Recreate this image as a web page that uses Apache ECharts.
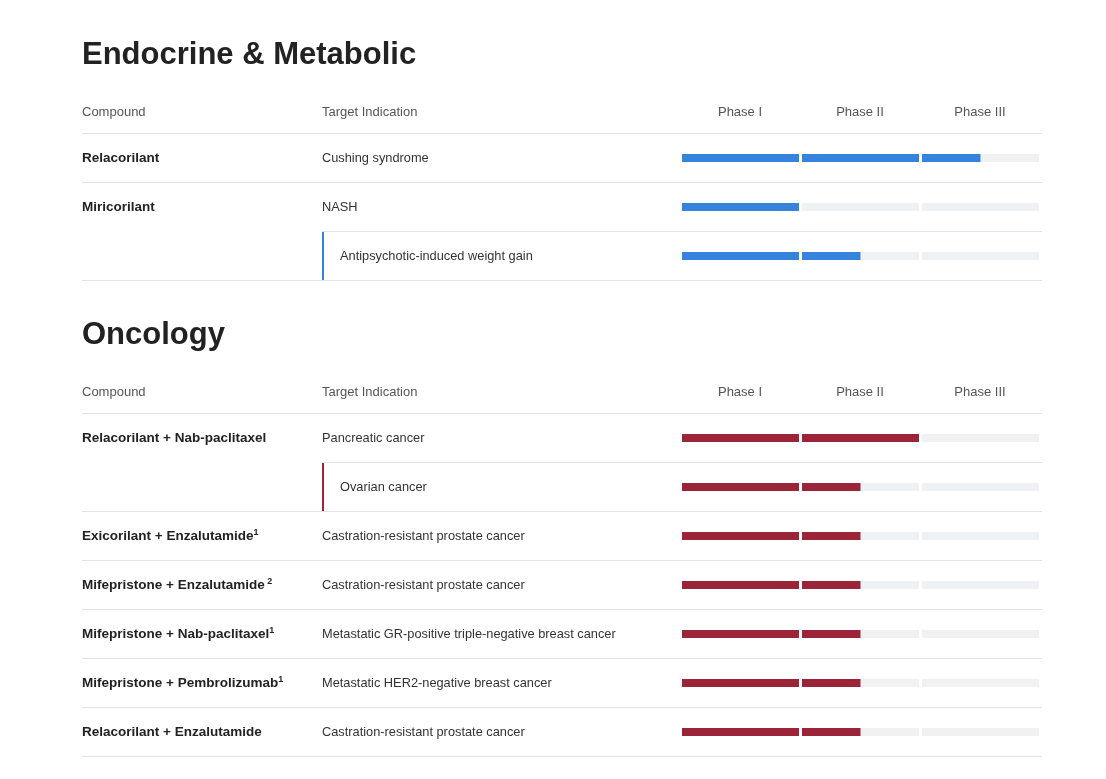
<!DOCTYPE html>
<html>
<head>
<meta charset="utf-8">
<title>Pipeline</title>
<script src="https://cdn.jsdelivr.net/npm/echarts@6/dist/echarts.min.js"></script>
<style>
  html, body { margin: 0; padding: 0; background: #fff; }
  #chart { width: 1106px; height: 779px; }
</style>
</head>
<body>
<div id="chart"></div>
<script>
// section titles and column headers
var sectionTitles = ['Endocrine & Metabolic', 'Oncology'];
var columnHeaders = ['Compound', 'Target Indication'];
var phaseLabels = ['Phase I', 'Phase II', 'Phase III'];

// Endocrine & Metabolic rows
var endoCompounds = ['Relacorilant', 'Miricorilant', ''];
var endoNotes = ['', '', ''];
var endoIndications = ['Cushing syndrome', 'NASH', 'Antipsychotic-induced weight gain'];
var endoSubRow = [0, 0, 1];
var endoProgress = [2.5, 1, 1.5];

// Oncology rows
var oncoCompounds = [
    'Relacorilant + Nab-paclitaxel',
    '',
    'Exicorilant + Enzalutamide',
    'Mifepristone + Enzalutamide',
    'Mifepristone + Nab-paclitaxel',
    'Mifepristone + Pembrolizumab',
    'Relacorilant + Enzalutamide'
];
var oncoNotes = ['', '', '1', ' 2', '1', '1', ''];
var oncoIndications = [
    'Pancreatic cancer',
    'Ovarian cancer',
    'Castration-resistant prostate cancer',
    'Castration-resistant prostate cancer',
    'Metastatic GR-positive triple-negative breast cancer',
    'Metastatic HER2-negative breast cancer',
    'Castration-resistant prostate cancer'
];
var oncoSubRow = [0, 1, 0, 0, 0, 0, 0];
var oncoProgress = [2, 1.5, 1.5, 1.5, 1.5, 1.5, 1.5];

var FONT = '"Liberation Sans", Arial, Helvetica, sans-serif';
var ROW_H = 49;
var X_MIN = -5, X_MAX = 3; // -5 = compound column, -3 = indication column, 0..3 = phases

var sections = [
    {compounds: endoCompounds, notes: endoNotes, indications: endoIndications,
     sub: endoSubRow, progress: endoProgress, color: '#3583dd', top: 133},
    {compounds: oncoCompounds, notes: oncoNotes, indications: oncoIndications,
     sub: oncoSubRow, progress: oncoProgress, color: '#9b2438', top: 413}
];

function rowIds(n) {
    var ids = [];
    for (var i = 0; i < n; i++) ids.push(String(i));
    return ids;
}

var myChart = echarts.init(document.getElementById('chart'));

var grid = [], xAxis = [], yAxis = [], series = [], title = [];

sections.forEach(function (sec, s) {
    var n = sec.compounds.length;
    title.push({
        text: sectionTitles[s],
        left: 82,
        top: sec.top - 93,
        padding: 0,
        textStyle: {fontFamily: FONT, fontSize: 31, fontWeight: 'bold', color: '#222'}
    });
    grid.push({left: 82, right: 64, top: sec.top, height: n * ROW_H});

    // phase headers
    xAxis.push({
        type: 'value', gridIndex: s, position: 'top', min: X_MIN, max: X_MAX, interval: 0.5,
        axisLine: {show: false}, axisTick: {show: false}, splitLine: {show: false},
        axisLabel: {
            margin: 21, verticalAlign: 'middle', padding: [0, 4, 0, 0],
            color: '#555', fontFamily: FONT, fontSize: 13,
            formatter: function (v) {
                var k = v - 0.5;
                return (k >= 0 && k < 3 && k === Math.round(k)) ? phaseLabels[k] : '';
            }
        }
    });
    // column headers
    xAxis.push({
        type: 'value', gridIndex: s, position: 'top', min: X_MIN, max: X_MAX, interval: 0.5,
        axisLine: {show: false}, axisTick: {show: false}, splitLine: {show: false},
        axisLabel: {
            margin: 21, verticalAlign: 'middle', align: 'left', showMinLabel: true,
            color: '#555', fontFamily: FONT, fontSize: 13,
            formatter: function (v) {
                if (v === -5) return columnHeaders[0];
                if (v === -3) return columnHeaders[1];
                return '';
            }
        }
    });

    // compound column (left edge of the grid)
    yAxis.push({
        type: 'category', gridIndex: s, position: 'left', inverse: true, data: rowIds(n),
        axisLine: {show: false}, axisTick: {show: false}, splitLine: {show: false},
        axisLabel: {
            interval: 0, margin: 0, align: 'left', padding: [2, 0, 0, 0],
            fontFamily: FONT, fontSize: 13.5, color: '#222',
            formatter: function (v) {
                var i = +v;
                if (!sec.compounds[i]) return '';
                return '{b|' + sec.compounds[i] + '}' + (sec.notes[i] ? '{s|' + sec.notes[i] + '}' : '');
            },
            rich: {
                b: {fontFamily: FONT, fontSize: 13.5, fontWeight: 'bold', color: '#222', lineHeight: 16},
                s: {fontFamily: FONT, fontSize: 9, fontWeight: 'bold', color: '#222', lineHeight: 9, verticalAlign: 'top'}
            }
        }
    });
    // indication column (axis sits on the right edge, labels pulled back to x = -3)
    yAxis.push({
        type: 'category', gridIndex: s, position: 'right', inverse: true, data: rowIds(n),
        axisLine: {show: false}, axisTick: {show: false}, splitLine: {show: false},
        axisLabel: {
            interval: 0, margin: -720, align: 'left', padding: [2, 0, 0, 0],
            fontFamily: FONT, fontSize: 12.8, color: '#333',
            formatter: function (v) {
                var i = +v;
                return (sec.sub[i] ? '{sub|' : '{main|') + sec.indications[i] + '}';
            },
            rich: {
                main: {fontFamily: FONT, fontSize: 12.8, color: '#333'},
                sub: {fontFamily: FONT, fontSize: 12.8, color: '#333', padding: [0, 0, 0, 18]}
            }
        }
    });

    var data = sec.progress.map(function (p, i) { return [p, i, sec.sub[i]]; });

    series.push({
        type: 'custom',
        xAxisIndex: s * 2,
        yAxisIndex: s * 2,
        silent: true,
        encode: {x: 0, y: 1},
        data: data,
        renderItem: function (params, api) {
            var prog = api.value(0);
            var row = api.value(1);
            var isSub = api.value(2);
            var bandH = api.size([1, 1])[1];
            var yMid = api.coord([0, row])[1];
            var top = Math.round(yMid - bandH / 2);
            var xEnd = api.coord([X_MAX, row])[0];
            var lineStart = api.coord([isSub ? -3 : X_MIN, row])[0];
            var children = [];
            var lineStyle = {stroke: '#e3e3e3', lineWidth: 1};

            children.push({type: 'line', shape: {x1: lineStart, y1: top + 0.5, x2: xEnd, y2: top + 0.5}, style: lineStyle});
            if (row === n - 1) {
                var bottom = Math.round(yMid + bandH / 2);
                children.push({type: 'line', shape: {x1: api.coord([X_MIN, row])[0], y1: bottom + 0.5, x2: xEnd, y2: bottom + 0.5}, style: lineStyle});
            }
            if (isSub) {
                children.push({
                    type: 'rect',
                    shape: {x: lineStart, y: top + 1, width: 2, height: bandH - 1},
                    style: {fill: sec.color}
                });
            }
            var barY = Math.round(yMid - 3.5);
            for (var k = 0; k < 3; k++) {
                // each phase segment, minus a 3px gap
                var x0 = api.coord([k, row])[0];
                var x1 = api.coord([k + 1, row])[0] - 3;
                children.push({type: 'rect', shape: {x: x0, y: barY, width: x1 - x0, height: 8}, style: {fill: '#f0f1f3'}});
                var f = Math.max(0, Math.min(1, prog - k));
                if (f > 0) {
                    children.push({type: 'rect', shape: {x: x0, y: barY, width: (x1 - x0) * f, height: 8}, style: {fill: sec.color}});
                }
            }
            return {type: 'group', children: children};
        }
    });
});

var option = {
    animation: false,
    backgroundColor: '#fff',
    title: title,
    grid: grid,
    xAxis: xAxis,
    yAxis: yAxis,
    series: series
};

myChart.setOption(option);
window.addEventListener('resize', function () {
    myChart.resize();
});
</script>
</body>
</html>
